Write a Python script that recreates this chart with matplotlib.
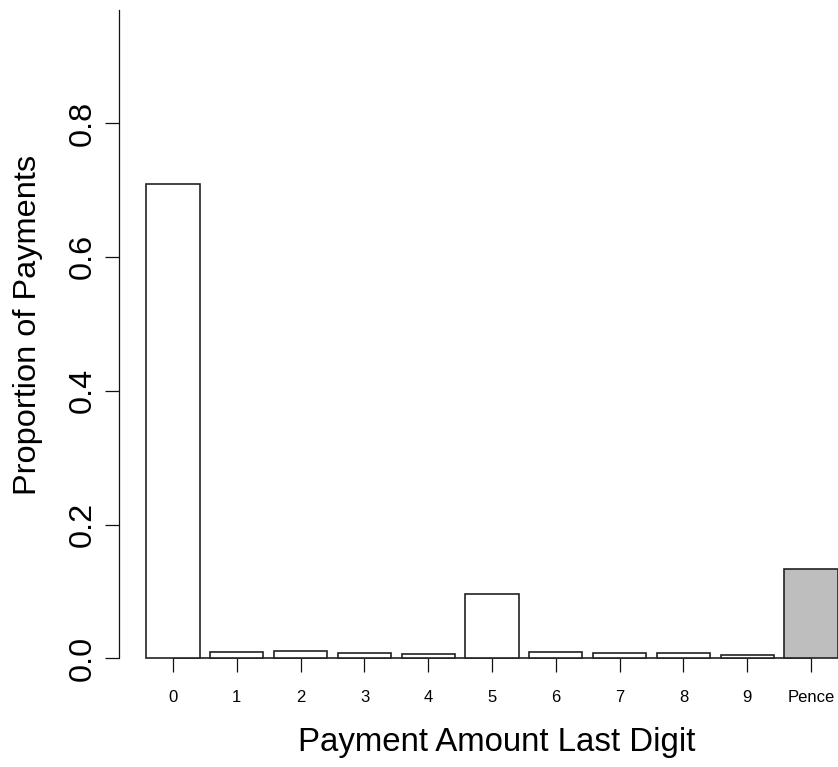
import matplotlib
matplotlib.use("Agg")
import matplotlib.pyplot as plt
import numpy as np

# Share of payments by last digit of the amount (plus amounts with pence)
categories = ["0", "1", "2", "3", "4", "5", "6", "7", "8", "9", "Pence"]
proportions = [0.709, 0.009, 0.011, 0.008, 0.007, 0.096, 0.009, 0.0075, 0.0075, 0.0055, 0.1335]
bar_colors = ["white"] * 10 + ["#BEBEBE"]
y_ticks = [0.0, 0.2, 0.4, 0.6, 0.8]
y_tick_labels = ["0.0", "0.2", "0.4", "0.6", "0.8"]

plt.rcParams["font.family"] = ["Liberation Sans", "DejaVu Sans"]

W, H, DPI = 838, 767, 100
fig = plt.figure(figsize=(W / DPI, H / DPI), dpi=DPI)

# barplot-style geometry: width 1, space 0.2
width = 1.0
space = 0.2
centers = np.arange(len(categories)) * (width + space) + space + width / 2
xlim = (centers[0] - width / 2 - 0.52, centers[-1] + width / 2 + 0.52)
ylim = (-0.0363, 0.969)

left_px, right_px = 118.8, 865.3
top_px, bottom_px = 10.0, 682.6
ax = fig.add_axes([left_px / W, 1 - bottom_px / H,
                   (right_px - left_px) / W, (bottom_px - top_px) / H])
ax.set_xlim(*xlim)
ax.set_ylim(*ylim)

edge = "#222222"
ax.bar(centers, proportions, width=width, color=bar_colors,
       edgecolor=edge, linewidth=1.2, zorder=3, clip_on=False)
ax.hlines(0, centers[0], centers[-1], color=edge, linewidth=1.2, zorder=2)

for side in ["top", "right", "bottom"]:
    ax.spines[side].set_visible(False)
ax.spines["left"].set_bounds(0, ylim[1])
ax.spines["left"].set_linewidth(0.9)
ax.spines["left"].set_color("#111111")

ax.tick_params(axis="y", length=10, width=0.9, pad=5.5, color="#111111",
               labelsize=23.4)
ax.set_yticks(y_ticks)
ax.set_yticklabels(y_tick_labels, rotation=90, va="center")

ax.tick_params(axis="x", length=10, width=0.9, pad=12.5, color="#111111",
               direction="out", labelsize=12)
ax.set_xticks(centers)
ax.set_xticklabels(categories)
ax.xaxis.set_ticks_position("bottom")
# x ticks hang from the zero baseline
ax.spines["bottom"].set_position(("data", 0))

fig.text(497 / W, 1 - 743 / H, "Payment Amount Last Digit",
         ha="center", va="center", fontsize=23.8)
fig.text(28 / W, 1 - 325 / H, "Proportion of Payments",
         ha="center", va="center", rotation=90, fontsize=23.4)

fig.savefig("out.png", dpi=DPI, facecolor="white")
